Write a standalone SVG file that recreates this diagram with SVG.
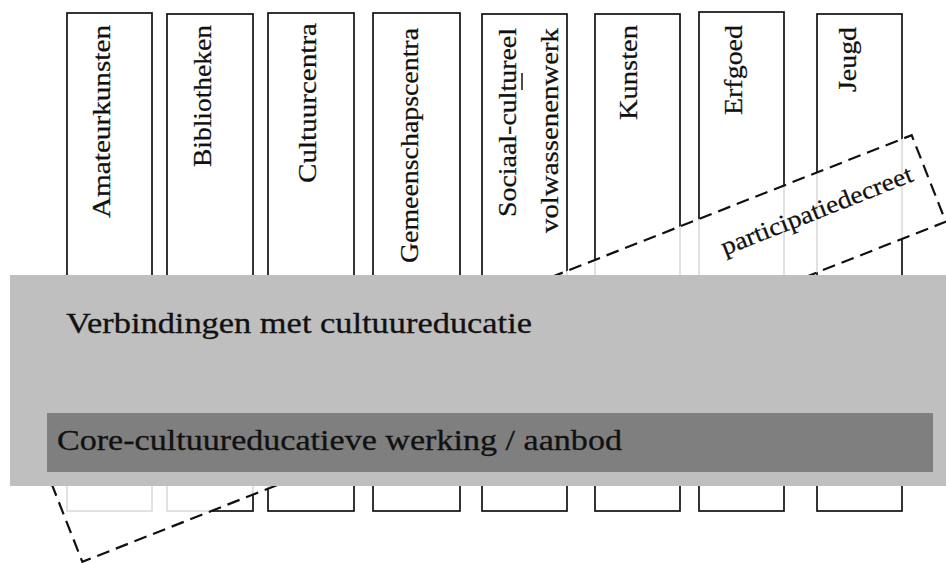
<svg xmlns="http://www.w3.org/2000/svg" width="946" height="563" viewBox="0 0 946 563">
  <style>
    .col { fill: #ffffff; stroke: #111111; stroke-width: 1.7; }
    .ct { font-family: "Liberation Serif", "Times New Roman", serif; font-size: 25px; fill: #111111; stroke: #111111; stroke-width: 0.25; }
    .band { font-family: "Liberation Serif", "Times New Roman", serif; font-size: 29px; fill: #111111; stroke: #111111; stroke-width: 0.3; }
    .dash { fill: #ffffff; fill-opacity: 0.86; stroke: #111111; stroke-width: 2.2; stroke-dasharray: 13 7; }
  </style>
  <rect x="0" y="0" width="946" height="563" fill="#ffffff"/>

  <g id="col-amateurkunsten">
    <rect class="col" x="67" y="13" width="85" height="498"/>
    <text class="ct" transform="translate(110,218) rotate(-90)" textLength="193" lengthAdjust="spacingAndGlyphs">Amateurkunsten</text>
  </g>
  <g id="col-bibliotheken">
    <rect class="col" x="167" y="14" width="86" height="497"/>
    <text class="ct" transform="translate(211,167) rotate(-90)" textLength="142" lengthAdjust="spacingAndGlyphs">Bibliotheken</text>
  </g>
  <g id="col-cultuurcentra">
    <rect class="col" x="268" y="13" width="86" height="498"/>
    <text class="ct" transform="translate(316,183) rotate(-90)" textLength="160" lengthAdjust="spacingAndGlyphs">Cultuurcentra</text>
  </g>
  <g id="col-gemeenschapscentra">
    <rect class="col" x="373" y="13" width="87" height="498"/>
    <text class="ct" transform="translate(418,263) rotate(-90)" textLength="235" lengthAdjust="spacingAndGlyphs">Gemeenschapscentra</text>
  </g>
  <g id="col-sociaal-cultureel">
    <rect class="col" x="482" y="14" width="85" height="497"/>
    <text class="ct" transform="translate(516,217) rotate(-90)" textLength="189" lengthAdjust="spacingAndGlyphs">Sociaal-cultureel</text>
    <line x1="522" y1="73" x2="522" y2="90" stroke="#111111" stroke-width="1.5"/>
    <text class="ct" transform="translate(558,233) rotate(-90)" textLength="205" lengthAdjust="spacingAndGlyphs">volwassenenwerk</text>
  </g>
  <g id="col-kunsten">
    <rect class="col" x="595" y="14" width="85" height="497"/>
    <text class="ct" transform="translate(637,120) rotate(-90)" textLength="95" lengthAdjust="spacingAndGlyphs">Kunsten</text>
  </g>
  <g id="col-erfgoed">
    <rect class="col" x="699" y="12" width="85" height="499"/>
    <text class="ct" transform="translate(742,115) rotate(-90)" textLength="90" lengthAdjust="spacingAndGlyphs">Erfgoed</text>
  </g>
  <g id="col-jeugd">
    <rect class="col" x="817" y="14" width="85" height="497"/>
    <text class="ct" transform="translate(856,92) rotate(-90)" textLength="65" lengthAdjust="spacingAndGlyphs">Jeugd</text>
  </g>

  <g id="participatiedecreet" transform="translate(497,348.5) rotate(-21.5)">
    <rect class="dash" x="-464" y="-46.5" width="928" height="93"/>
    <text class="ct" x="246" y="-3" font-size="24" textLength="204" lengthAdjust="spacingAndGlyphs">participatiedecreet</text>
  </g>

  <g id="verbindingen">
    <rect x="10" y="275" width="936" height="211" fill="#bfbfbf"/>
    <text class="band" x="66" y="333" textLength="466" lengthAdjust="spacingAndGlyphs">Verbindingen met cultuureducatie</text>
  </g>
  <g id="core">
    <rect x="47" y="413" width="886" height="59" fill="#7f7f7f"/>
    <text class="band" x="57" y="450" textLength="565" lengthAdjust="spacingAndGlyphs">Core-cultuureducatieve werking / aanbod</text>
  </g>
</svg>
